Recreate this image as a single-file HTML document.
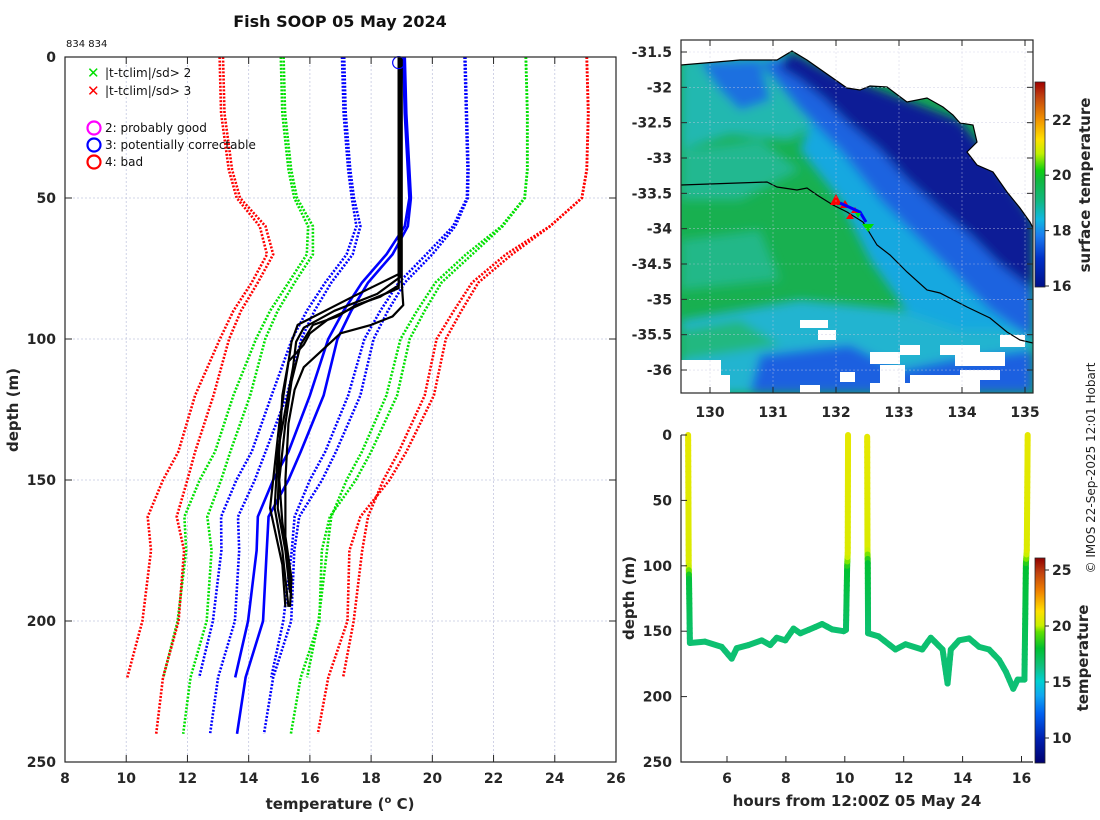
<!DOCTYPE html>
<html><head><meta charset="utf-8"><style>
html,body{margin:0;padding:0;background:#fff;}
svg{display:block;font-family:"DejaVu Sans","Liberation Sans",sans-serif;}
.tk{font-size:14px;font-weight:bold;fill:#262626;}
.lab{font-size:15px;font-weight:bold;fill:#262626;}
</style></head><body>
<svg id="fig" width="1100" height="820" viewBox="0 0 1100 820" xmlns="http://www.w3.org/2000/svg">
<defs>
<filter id="blur" x="-10%" y="-10%" width="120%" height="120%"><feGaussianBlur stdDeviation="5"/></filter>
<clipPath id="mapclip"><rect x="681" y="40" width="352" height="353"/></clipPath>
<clipPath id="lclip"><rect x="65" y="57" width="551" height="705"/></clipPath>
<linearGradient id="cb1" x1="0" y1="1" x2="0" y2="0">
<stop offset="0" stop-color="#00108a"/><stop offset="0.14" stop-color="#0030c8"/><stop offset="0.25" stop-color="#1a7cf0"/><stop offset="0.33" stop-color="#10b8e0"/><stop offset="0.42" stop-color="#10b880"/><stop offset="0.52" stop-color="#10b840"/><stop offset="0.57" stop-color="#10d010"/><stop offset="0.65" stop-color="#c0f000"/><stop offset="0.72" stop-color="#ffe000"/><stop offset="0.82" stop-color="#f09000"/><stop offset="0.93" stop-color="#c04010"/><stop offset="1" stop-color="#a00000"/>
</linearGradient>
<linearGradient id="cb2" x1="0" y1="1" x2="0" y2="0">
<stop offset="0" stop-color="#000070"/><stop offset="0.12" stop-color="#0020b0"/><stop offset="0.24" stop-color="#0060f0"/><stop offset="0.33" stop-color="#10a8f0"/><stop offset="0.4" stop-color="#00d0d0"/><stop offset="0.47" stop-color="#10c080"/><stop offset="0.56" stop-color="#00c030"/><stop offset="0.64" stop-color="#60e000"/><stop offset="0.67" stop-color="#c8f000"/><stop offset="0.74" stop-color="#ffe000"/><stop offset="0.84" stop-color="#f08000"/><stop offset="0.93" stop-color="#c04010"/><stop offset="1" stop-color="#900000"/>
</linearGradient>
</defs>

<text x="340" y="27" text-anchor="middle" style="font-size:16px;font-weight:bold;fill:#111">Fish SOOP 05 May 2024</text>
<text x="66" y="47" style="font-size:10px;fill:#111">834 834</text>

<g id="left"></g>
<g id="map"></g>
<g id="bot"></g>

<text transform="translate(1095,468) rotate(-90)" text-anchor="middle" style="font-size:12px;fill:#222">© IMOS 22-Sep-2025 12:01 Hobart</text>
</svg>
<script>
// ---------- Left profile plot data ----------
const depthsA = [0,20,40,50,60,70,80,90,100,120,140,150,163,175,200,220];
const meanA = [19.05,19.1,19.2,19.25,19.1,18.5,17.7,17.1,16.6,16.0,15.3,14.8,14.3,14.26,13.98,13.56];
const sdA = [2.0,2.0,1.95,1.88,1.58,1.3,1.2,1.2,1.18,1.25,1.2,1.2,1.2,1.15,1.15,1.175];
const depthsB = [0,20,40,50,60,70,80,90,100,120,140,150,163,175,200,220,240];
const meanB = [19.1,19.15,19.25,19.3,19.2,18.7,17.9,17.35,16.9,16.45,15.7,15.3,14.65,14.59,14.47,13.9,13.62];
const sdB = [1.98,1.98,1.93,1.86,1.55,1.3,1.2,1.2,1.18,1.2,1.15,1.1,1.0,0.9,0.92,0.9,0.88];
const castDepths = [
 [0,78,84,90,96,101,110,125,140,160,175,190,195],
 [0,82,86,90,93,98,102,108,120,140,160,175,190],
 [0,81,85,88,92,95,102,115,130,150,165,180,192],
 [0,80,88,92,95,98,103,110,118,130,150,170,185,195],
 [0,77,85,95,101,130,160,180,195]
];
const castTemps = [
 [18.95,18.95,18.2,16.8,15.8,15.55,15.45,15.2,14.95,14.85,15.1,15.25,15.3],
 [18.95,18.9,18.0,17.2,16.6,16.0,15.8,15.3,15.1,15.0,14.95,15.2,15.35],
 [18.9,18.9,18.3,17.5,16.9,16.1,15.7,15.4,15.2,15.0,15.1,15.3,15.4],
 [19.0,19.0,19.05,18.7,18.0,17.0,16.5,15.8,15.5,15.3,15.2,15.2,15.4,15.35],
 [18.9,18.9,17.4,15.6,15.4,15.0,14.7,15.1,15.2]
];
const xTicksL = [8,10,12,14,16,18,20,22,24,26];
const yTicksL = [0,50,100,150,200,250];
const flagTemp = 18.9, flagDepth = 2;

// ---------- Map axis ticks ----------
const lonTicks = [130,131,132,133,134,135];
const latTicks = [-31.5,-32,-32.5,-33,-33.5,-34,-34.5,-35,-35.5,-36];
const sstTicks = [16,18,20,22];

// ---------- Bottom plot data ----------
const hours1 = [4.68,4.70,4.71,4.74,5.25,5.82,6.16,6.33,6.73,7.18,7.47,7.69,7.98,8.26,8.49,8.77,9.23,9.57,9.96,10.04,10.08,10.10,10.11];
const depth1 = [0,100,110,159,158,162,171,163,160.6,157,160.6,155,157,148,151.6,149,144.5,148.6,150,149,100,90,0];
const temp1 = [19.3,19.0,16.3,15.3,15.3,15.3,15.2,15.3,15.3,15.3,15.3,15.3,15.3,15.4,15.3,15.3,15.4,15.3,15.3,15.4,16.5,19.0,19.3];
const hours2 = [10.76,10.77,10.78,10.79,11.15,11.72,12.06,12.63,12.92,13.32,13.49,13.6,13.88,14.22,14.56,14.9,15.24,15.47,15.72,15.87,16.1,16.15,16.18,16.21];
const depth2 = [1.3,88,98,151.6,154,164,160,164,155,164,190,164,157,155.5,162,164,172,181,194,187,187,98,88,0];
const temp2 = [19.3,19.0,16.5,15.3,15.3,15.3,15.3,15.3,15.3,15.3,15.2,15.3,15.3,15.3,15.3,15.3,15.3,15.2,15.2,15.2,15.3,16.5,19.0,19.3];
const xTicksB = [6,8,10,12,14,16];
const yTicksB = [0,50,100,150,200,250];
const tTicksB = [10,15,20,25];

const NS = "http://www.w3.org/2000/svg";
function mk(tag, attrs, parent){const e=document.createElementNS(NS,tag);for(const k in attrs)e.setAttribute(k,attrs[k]);parent.appendChild(e);return e;}

// ===== Left plot =====
const L = document.getElementById('left');
const xL = t => 65 + (t-8)*551/18;
const yL = d => 57 + d*705/250;
xTicksL.forEach(t=>{ if(t>8&&t<26){const g=mk('line',{x1:xL(t),x2:xL(t),y1:57,y2:762,stroke:'#c4c8e0','stroke-width':0.8,'stroke-dasharray':'2 2'},L);

}});
yTicksL.forEach(d=>{ if(d>0&&d<250){const g=mk('line',{x1:65,x2:616,y1:yL(d),y2:yL(d),stroke:'#c4c8e0','stroke-width':0.8,'stroke-dasharray':'2 2'},L);

}});
const cg = mk('g',{'clip-path':'url(#lclip)'},L);
function envLine(depths, mean, sd, k, color, name){
  const pts = depths.map((d,i)=>xL(mean[i]+k*sd[i]).toFixed(1)+','+yL(d).toFixed(1)).join(' ');
  const p = mk('polyline',{points:pts,fill:'none',stroke:color,'stroke-width':2.6,'stroke-dasharray':'2 1.6'},cg);
  
  
}
[[depthsA,meanA,sdA,'a'],[depthsB,meanB,sdB,'b']].forEach(([D,M,S,n])=>{
  [[-3,'#ff0000'],[3,'#ff0000'],[-2,'#00e000'],[2,'#00e000'],[-1,'#0000ff'],[1,'#0000ff']].forEach(([k,c])=>envLine(D,M,S,k,c,'clim-sd'+k+'-'+n));
});
[[depthsA,meanA,'a'],[depthsB,meanB,'b']].forEach(([D,M,n])=>{
  const p = mk('polyline',{points:D.map((d,i)=>xL(M[i])+','+yL(d)).join(' '),fill:'none',stroke:'#0000ff','stroke-width':2.6},cg);
  
  
});
castDepths.forEach((D,j)=>{
  const p = mk('polyline',{points:D.map((d,i)=>xL(castTemps[j][i])+','+yL(d)).join(' '),fill:'none',stroke:'#000','stroke-width':2.2,'stroke-linejoin':'round'},cg);
  
  
});
const fc = mk('circle',{cx:xL(flagTemp),cy:yL(flagDepth),r:6,fill:'none',stroke:'#0000ff','stroke-width':1.2},L);


const fr = mk('rect',{x:65,y:57,width:551,height:705,fill:'none',stroke:'#262626','stroke-width':1.2},L);


xTicksL.forEach(t=>{
  mk('line',{x1:xL(t),x2:xL(t),y1:762,y2:755,stroke:'#262626'},L);
  mk('line',{x1:xL(t),x2:xL(t),y1:57,y2:64,stroke:'#262626'},L);
  const tx = mk('text',{x:xL(t),y:783,'text-anchor':'middle',class:'tk'},L); tx.textContent=t;
  
  
});
yTicksL.forEach(d=>{
  mk('line',{x1:65,x2:72,y1:yL(d),y2:yL(d),stroke:'#262626'},L);
  mk('line',{x1:616,x2:609,y1:yL(d),y2:yL(d),stroke:'#262626'},L);
  const tx = mk('text',{x:56,y:yL(d)+5,'text-anchor':'end',class:'tk'},L); tx.textContent=d;
  
  
});
let t1 = mk('text',{x:340,y:809,'text-anchor':'middle',class:'lab'},L);
t1.innerHTML='temperature (<tspan dy="-6" font-size="10">o</tspan><tspan dy="6"> C)</tspan>';


t1 = mk('text',{transform:'translate(18,410) rotate(-90)','text-anchor':'middle',class:'lab'},L); t1.textContent='depth (m)';


const lg = mk('g',{},L);


[['#00e000',73,'|t-tclim|/sd> 2'],['#ff0000',91,'|t-tclim|/sd> 3']].forEach(([c,y,s])=>{
  const e=mk('text',{x:87,y:y+5,style:'font-size:15px;font-weight:bold;fill:'+c},lg); e.textContent='✕';
  const t=mk('text',{x:105,y:y+4,style:'font-size:12px;fill:#111'},lg); t.textContent=s;
  
  
});
[['#ff00ff',128,'2: probably good'],['#0000ff',145,'3: potentially correctable'],['#ff0000',162,'4: bad']].forEach(([c,y,s])=>{
  mk('circle',{cx:94,cy:y,r:6.5,fill:'none',stroke:c,'stroke-width':2.2},lg);
  const t=mk('text',{x:105,y:y+4,style:'font-size:12px;fill:#111'},lg); t.textContent=s;
  
  
});

// ===== Map =====
const M = document.getElementById('map');
const xM = lon => 710 + (lon-130)*63;
const yM = lat => 52 + (-31.5-lat)*70.67;
const mg = mk('g',{'clip-path':'url(#mapclip)'},M);
mk('rect',{x:681,y:40,width:352,height:353,fill:'#18b050'},mg);
const bl = mk('g',{filter:'url(#blur)'},mg);
const poly=(pts,fill,par)=>mk('polygon',{points:pts,fill:fill},par||bl);
poly('681,60 790,50 840,110 790,140 730,135 681,150','#20b8b0');
poly('681,150 760,140 800,170 740,200 681,200','#20b890');
poly('681,240 760,230 780,280 681,290','#20b888');
poly('820,100 1033,220 1033,393 960,393 920,330 870,260 840,200 800,150','#18a8e0');
poly('681,320 800,300 900,310 960,330 1033,330 1033,393 681,393','#20b4d0');
poly('681,330 740,320 780,345 681,360','#20b880');
poly('760,62 800,55 1033,220 1033,340 990,310 930,250 880,200 840,150 800,110','#1a64e0');
poly('760,355 850,345 900,370 950,360 1033,350 1033,393 750,393','#1a60e0');
poly('700,62 760,60 770,100 740,110 720,90','#1a70e0');
poly('787,50 830,72 870,86 907,100 960,120 1000,170 1033,220 1033,290 1000,265 970,235 940,210 905,178 880,150 850,125 825,100 800,80 780,68','#081c96');
[[800,320,28,8],[818,330,18,10],[870,352,30,12],[880,365,25,18],[900,345,20,10],[940,345,40,10],[955,352,50,14],[1000,335,25,12],[681,360,40,33],[705,375,25,18],[910,375,70,18],[960,370,40,10],[870,383,40,10],[800,385,20,8],[840,372,15,10]].forEach(([x,y,w,h])=>{
  const r=mk('rect',{x:x,y:y,width:w,height:h,fill:'#fff'},mg);
  
  
});
const coast='681,65 740,60 777,60 792,51 807,60 847,88 860,90 870,86 887,87 907,102 927,98 943,107 953,115 960,123 973,125 977,142 967,152 977,165 993,172 1007,192 1020,208 1030,222 1033,228';
const land=mk('polygon',{points:coast+' 1033,40 681,40',fill:'#fff'},mg);


const cl=mk('polyline',{points:coast,fill:'none',stroke:'#000','stroke-width':1.2},mg);


const tr=mk('polyline',{points:'681,185 767,182 777,187 797,190 807,188 817,195 833,205 847,212 863,222 877,245 890,255 907,272 927,290 940,293 967,307 990,318 1007,332 1020,340 1033,343',fill:'none',stroke:'#000','stroke-width':1.2},mg);


[['836,194 830,205 842,205','#ff0000'],['845,200 840,208 850,208','#ff0000'],['855,207 851,213 859,213','#ff0000'],['850,213 846,219 854,219','#ff0000']].forEach(([p,c])=>{
  const m=mk('polygon',{points:p,fill:c},mg);
  
  
});
mk('polyline',{points:'840,203 860,212 866,222',fill:'none',stroke:'#0000ff','stroke-width':3},mg);
const gm=mk('polygon',{points:'862,224 874,224 868,232',fill:'#00e000'},mg);


const gm2=mk('polygon',{points:'855,213 861,213 858,218',fill:'#00e000'},mg);


lonTicks.forEach(l=>mk('line',{x1:xM(l),x2:xM(l),y1:40,y2:393,stroke:'#c8c8e0','stroke-width':0.6,'stroke-dasharray':'2 2',opacity:0.7},mg));
latTicks.forEach(l=>mk('line',{x1:681,x2:1033,y1:yM(l),y2:yM(l),stroke:'#c8c8e0','stroke-width':0.6,'stroke-dasharray':'2 2',opacity:0.7},mg));
const mf=mk('rect',{x:681,y:40,width:352,height:353,fill:'none',stroke:'#262626','stroke-width':1.2},M);


lonTicks.forEach(l=>{
  mk('line',{x1:xM(l),x2:xM(l),y1:393,y2:387,stroke:'#262626'},M);
  mk('line',{x1:xM(l),x2:xM(l),y1:40,y2:46,stroke:'#262626'},M);
  const t=mk('text',{x:xM(l),y:417,'text-anchor':'middle',class:'tk'},M); t.textContent=l;
  
  
});
latTicks.forEach(l=>{
  mk('line',{x1:681,x2:687,y1:yM(l),y2:yM(l),stroke:'#262626'},M);
  mk('line',{x1:1033,x2:1027,y1:yM(l),y2:yM(l),stroke:'#262626'},M);
  const t=mk('text',{x:672,y:yM(l)+5,'text-anchor':'end',class:'tk'},M); t.textContent=l;
  
  
});
const yC1 = v => 286 - (v-16)*27.7;
const cb1=mk('rect',{x:1035,y:82,width:10,height:205,fill:'url(#cb1)',stroke:'#262626','stroke-width':0.8},M);


sstTicks.forEach(v=>{
  mk('line',{x1:1045,x2:1049,y1:yC1(v),y2:yC1(v),stroke:'#262626'},M);
  const t=mk('text',{x:1052,y:yC1(v)+5,class:'tk'},M); t.textContent=v;
  
  
});
t1=mk('text',{transform:'translate(1090,185) rotate(-90)','text-anchor':'middle',class:'lab'},M); t1.textContent='surface temperature';



// ===== Bottom plot =====
const B = document.getElementById('bot');
const xB = h => 727 + (h-6)*29.45;
const yB = d => 435 + d*327/250;
const stops=[[7.8,[0,0,112]],[10,[0,32,176]],[12,[0,96,240]],[13.5,[16,168,240]],[14.3,[0,208,208]],[15,[16,192,128]],[16.5,[0,192,48]],[17.5,[96,224,0]],[18.5,[200,240,0]],[20,[255,224,0]],[22,[240,128,0]],[24.5,[192,64,16]],[26.2,[144,0,0]]];
function cmap(v){
  if(v<=stops[0][0])return 'rgb('+stops[0][1]+')';
  for(let i=1;i<stops.length;i++){ if(v<=stops[i][0]){const f=(v-stops[i-1][0])/(stops[i][0]-stops[i-1][0]);
    const c=stops[i-1][1].map((a,k)=>Math.round(a+(stops[i][1][k]-a)*f));return 'rgb('+c+')';}}
  return 'rgb('+stops[stops.length-1][1]+')';
}
function trace(H,D,T,name){
  const g=mk('g',{},B);
  
  
  for(let i=0;i<H.length-1;i++){
    const n=Math.max(1,Math.ceil(Math.abs(D[i+1]-D[i])/4));
    for(let s=0;s<n;s++){
      const f0=s/n,f1=(s+1)/n;
      const tv=T[i]+(T[i+1]-T[i])*(f0+f1)/2;
      mk('line',{x1:xB(H[i]+(H[i+1]-H[i])*f0),y1:yB(D[i]+(D[i+1]-D[i])*f0),x2:xB(H[i]+(H[i+1]-H[i])*f1),y2:yB(D[i]+(D[i+1]-D[i])*f1),stroke:cmap(tv),'stroke-width':6,'stroke-linecap':'round'},g);
    }
  }
}
trace(hours1,depth1,temp1,'temperature-trace-1');
trace(hours2,depth2,temp2,'temperature-trace-2');
const bf=mk('path',{d:'M681,435 V762 H1033',fill:'none',stroke:'#262626','stroke-width':1.2},B);


xTicksB.forEach(h=>{
  mk('line',{x1:xB(h),x2:xB(h),y1:762,y2:756,stroke:'#262626'},B);
  const t=mk('text',{x:xB(h),y:783,'text-anchor':'middle',class:'tk'},B); t.textContent=h;
  
  
});
yTicksB.forEach(d=>{
  mk('line',{x1:681,x2:687,y1:yB(d),y2:yB(d),stroke:'#262626'},B);
  const t=mk('text',{x:672,y:yB(d)+5,'text-anchor':'end',class:'tk'},B); t.textContent=d;
  
  
});
t1=mk('text',{x:857,y:806,'text-anchor':'middle',class:'lab'},B); t1.textContent='hours from 12:00Z 05 May 24';


t1=mk('text',{transform:'translate(634,598) rotate(-90)','text-anchor':'middle',class:'lab'},B); t1.textContent='depth (m)';


const yC2 = v => 738 - (v-10)*11.2;
const cb2=mk('rect',{x:1035,y:558,width:10,height:205,fill:'url(#cb2)',stroke:'#262626','stroke-width':0.8},B);


tTicksB.forEach(v=>{
  mk('line',{x1:1045,x2:1049,y1:yC2(v),y2:yC2(v),stroke:'#262626'},B);
  const t=mk('text',{x:1052,y:yC2(v)+5,class:'tk'},B); t.textContent=v;
  
  
});
t1=mk('text',{transform:'translate(1088,658) rotate(-90)','text-anchor':'middle',class:'lab'},B); t1.textContent='temperature';


</script>
</body></html>
